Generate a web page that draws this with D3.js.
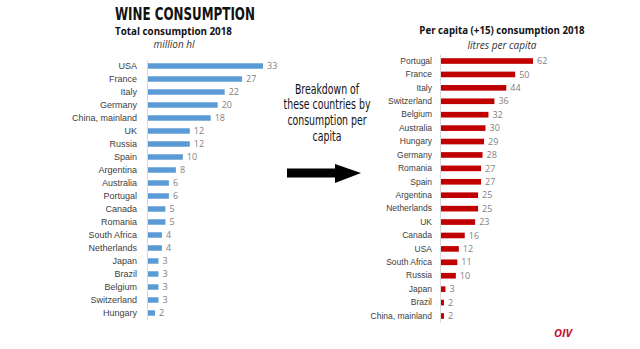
<!DOCTYPE html>
<html>
<head>
<meta charset="utf-8">
<script src="https://cdn.jsdelivr.net/npm/d3@7"></script>
<style>
  body { margin: 0; background: #fff; }
  svg { display: block; font-family: "Open Sans", "Noto Sans", sans-serif; }
  .cond { font-family: "DejaVu Sans", sans-serif; font-stretch: condensed; }
  .axis text { fill: #404040; }
  .value { fill: #7f7f7f; font-size: 9px; }
</style>
</head>
<body>
<div id="chart"></div>
<script>
// Datos: consumo total 2018 (millones de hl)
const totalCountries = ["USA", "France", "Italy", "Germany", "China, mainland", "UK", "Russia", "Spain",
  "Argentina", "Australia", "Portugal", "Canada", "Romania", "South Africa", "Netherlands", "Japan",
  "Brazil", "Belgium", "Switzerland", "Hungary"];
const totalValues = [33, 27, 22, 20, 18, 12, 12, 10, 8, 6, 6, 5, 5, 4, 4, 3, 3, 3, 3, 2];

// Datos: consumo per cápita (+15) 2018 (litros)
const capitaCountries = ["Portugal", "France", "Italy", "Switzerland", "Belgium", "Australia", "Hungary",
  "Germany", "Romania", "Spain", "Argentina", "Netherlands", "UK", "Canada", "USA", "South Africa",
  "Russia", "Japan", "Brazil", "China, mainland"];
const capitaValues = [62, 50, 44, 36, 32, 30, 29, 28, 27, 27, 25, 25, 23, 16, 12, 11, 10, 3, 2, 2];

const width = 640;
const height = 349;

const svg = d3.select("#chart")
  .append("svg")
  .attr("width", width)
  .attr("height", height);

// Función para dibujar un gráfico de barras horizontal
function drawBars(cfg) {
  const data = cfg.countries.map((c, i) => ({ country: c, value: cfg.values[i] }));

  const y = d3.scaleBand()
    .domain(cfg.countries)
    .range(cfg.yRange)
    .paddingInner(0.58)
    .paddingOuter(0.29);

  const x = d3.scaleLinear()
    .domain([0, cfg.maxValue])
    .range([cfg.x0, cfg.xMax]);

  const g = svg.append("g");

  g.append("g")
    .attr("class", "axis")
    .attr("transform", `translate(${cfg.x0},0)`)
    .call(d3.axisLeft(y).tickSize(0).tickPadding(cfg.pad).tickSizeOuter(0))
    .call(a => a.select(".domain").attr("stroke", "#d9d9d9"))
    .call(a => a.selectAll("text").attr("font-size", cfg.labelSize));

  g.selectAll(".bar")
    .data(data)
    .enter()
    .append("rect")
    .attr("x", cfg.x0 + 1)
    .attr("y", d => y(d.country))
    .attr("width", d => x(d.value) - cfg.x0)
    .attr("height", y.bandwidth())
    .attr("fill", cfg.color);

  g.selectAll(".value")
    .data(data)
    .enter()
    .append("text")
    .attr("class", "value")
    .attr("x", d => x(d.value) + 5)
    .attr("y", d => y(d.country) + y.bandwidth() / 2)
    .attr("dy", "0.35em")
    .text(d => d.value);
}

drawBars({
  countries: totalCountries, values: totalValues, maxValue: 33,
  x0: 147, xMax: 262, yRange: [59.5, 319.5], color: "#5b9bd5", pad: 10, labelSize: 9
});

drawBars({
  countries: capitaCountries, values: capitaValues, maxValue: 62,
  x0: 440, xMax: 532, yRange: [54.3, 322.7], color: "#c00000", pad: 8, labelSize: 8.5
});

// Texto estrecho: se comprime en horizontal con una transformación
function squeezeText(sel, x, y, sx) {
  sel.attr("x", 0).attr("y", 0)
    .attr("transform", `translate(${x},${y}) scale(${sx},1)`);
}

// Títulos
const title = svg.append("text")
  .attr("class", "cond")
  .attr("font-size", 18).attr("font-weight", "bold")
  .attr("fill", "#111")
  .text("WINE CONSUMPTION");
squeezeText(title, 115, 19.5, 140 / title.node().getComputedTextLength());

svg.append("text")
  .attr("x", 173.5).attr("y", 34.5)
  .attr("text-anchor", "middle")
  .attr("font-size", 9.8).attr("font-weight", "bold")
  .attr("fill", "#111")
  .text("Total consumption 2018");

svg.append("text")
  .attr("x", 174).attr("y", 47.5)
  .attr("text-anchor", "middle")
  .attr("font-size", 10).attr("font-style", "italic")
  .attr("fill", "#333")
  .text("million hl");

svg.append("text")
  .attr("x", 502).attr("y", 34)
  .attr("text-anchor", "middle")
  .attr("font-size", 9.7).attr("font-weight", "bold")
  .attr("fill", "#111")
  .text("Per capita (+15) consumption 2018");

svg.append("text")
  .attr("x", 502).attr("y", 49)
  .attr("text-anchor", "middle")
  .attr("font-size", 10).attr("font-style", "italic")
  .attr("fill", "#333")
  .text("litres per capita");

// Texto central
const midLines = ["Breakdown of", "these countries by", "consumption per", "capita"];
const mid = svg.append("g")
  .selectAll("text")
  .data(midLines)
  .enter()
  .append("text")
  .attr("class", "cond")
  .attr("text-anchor", "middle")
  .attr("font-size", 14.5)
  .attr("fill", "#111")
  .text(d => d);

const squeeze = 87 / mid.filter((d, i) => i === 1).node().getComputedTextLength();
mid.each(function(d, i) {
  squeezeText(d3.select(this), 327, 93.5 + i * 15.8, squeeze);
});

// Flecha
svg.append("path")
  .attr("d", "M287,168.5 L335,168.5 L335,164 L361,173 L335,183 L335,177.5 L287,177.5 Z")
  .attr("fill", "#000");

// Logo OIV
svg.append("text")
  .attr("x", 554).attr("y", 337)
  .attr("font-size", 11).attr("font-weight", "bold").attr("font-style", "italic")
  .attr("fill", "#c8102e")
  .text("OIV");
</script>
</body>
</html>
